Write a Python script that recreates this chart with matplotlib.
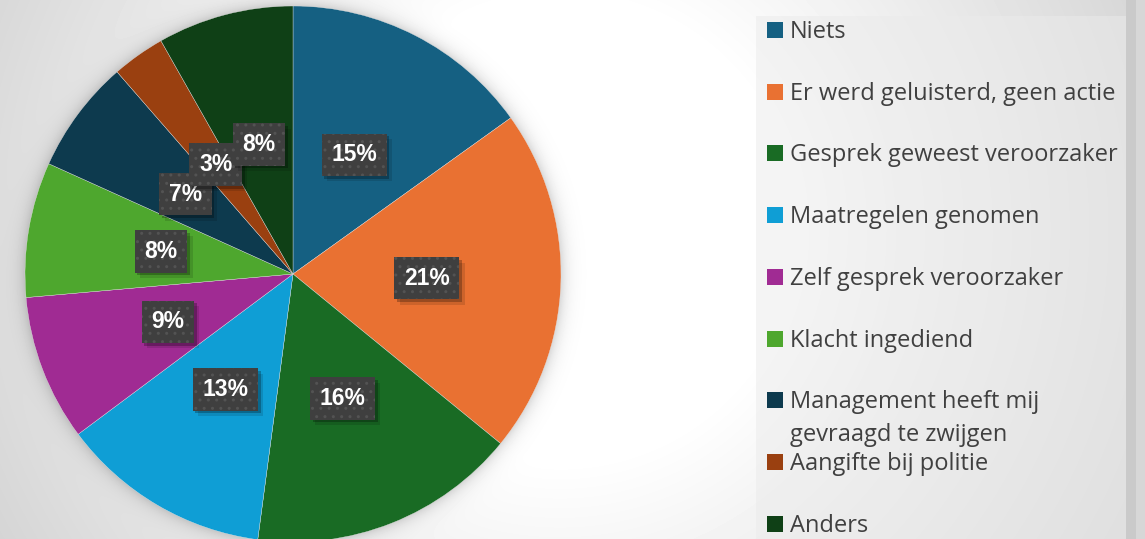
import numpy as np
import matplotlib.pyplot as plt
from matplotlib.patches import Rectangle
import matplotlib.patheffects as pe

categories = ['Niets', 'Er werd geluisterd, geen actie', 'Gesprek geweest veroorzaker',
              'Maatregelen genomen', 'Zelf gesprek veroorzaker', 'Klacht ingediend',
              'Management heeft mij\ngevraagd te zwijgen', 'Aangifte bij politie', 'Anders']
shares = [15.1, 20.8, 16.2, 12.7, 8.8, 8.15, 6.85, 3.2, 8.2]
colors = ['#156082', '#E97132', '#196B24', '#0F9ED5', '#A02B93', '#4EA72E',
          '#0D3A4E', '#9A4010', '#0F4016']


class BoxShadow(pe.AbstractPathEffect):
    # plain shifted copy of the box, without the hatch
    def __init__(self, offset=(3, -3), alpha=0.3):
        super().__init__(offset)
        self._alpha = alpha

    def draw_path(self, renderer, gc, tpath, affine, rgbFace):
        gc0 = renderer.new_gc()
        gc0.copy_properties(gc)
        gc0.set_hatch(None)
        gc0.set_linewidth(0)
        gc0.set_alpha(self._alpha)
        renderer.draw_path(gc0, tpath, affine + self._offset_transform(renderer), (0, 0, 0))
        gc0.restore()


W, H = 1145, 539
fig = plt.figure(figsize=(W / 100, H / 100), dpi=100)

# background: soft radial gradient plus a glow around the pie
yy, xx = np.mgrid[0:H, 0:W] + 0.5
d = np.hypot(xx - 560, yy - 230)
img = 1 - 0.17 * np.clip((d - 230) / 420, 0, 1)
cx, cy, R = 293, 274, 268
dp = np.hypot(xx - cx, yy - cy) - R
img *= 1 - 0.15 * np.exp(-np.clip(dp, 0, None) / 7)
img[:, 1126:1136] = 0.79
img[:, 1136:] = 0.84

bg = fig.add_axes([0, 0, 1, 1])
bg.imshow(img, cmap='gray', vmin=0, vmax=1, extent=(0, W, H, 0),
          aspect='auto', interpolation='bilinear')
bg.set_xlim(0, W)
bg.set_ylim(H, 0)
bg.axis('off')

# legend, drawn by hand
bg.add_patch(Rectangle((756, 16), 370, H, fc='#ebebeb', alpha=0.5, ec='none'))
base0, step, line_gap = 37.7, 61.8, 33
for i, (lab, col) in enumerate(zip(categories, colors)):
    yb = base0 + i * step
    bg.add_patch(Rectangle((767, yb - 16), 16, 16, fc=col, ec='none'))
    for k, line in enumerate(lab.split('\n')):
        bg.text(790, yb + k * line_gap, line, fontsize=17, family='Open Sans',
                color='#404040', va='baseline', ha='left')

# pie
ax = fig.add_axes([(cx - R) / W, (H - cy - R) / H, 2 * R / W, 2 * R / H])
wedges, texts, autotexts = ax.pie(shares, colors=colors, startangle=90, counterclock=False,
                                  autopct=lambda p: f'{p:.0f}%', pctdistance=0.5,
                                  wedgeprops=dict(edgecolor='#e8e8e8', linewidth=0.25))
ax.set_xlim(-1, 1)
ax.set_ylim(-1, 1)
ax.set_aspect('auto')
ax.axis('off')
ax.patch.set_visible(False)
for w in wedges:
    w.set_clip_on(False)

for n, t in enumerate(autotexts):
    t.set(color='white', fontsize=16.5, fontweight='bold', family='Liberation Sans',
          zorder=4 + n)
    t.set_bbox(dict(boxstyle='square,pad=0.42', fc='#3f3f3f', ec='#535353', lw=0, hatch='..'))
    t.get_bbox_patch().set_path_effects([BoxShadow((4, -4), 0.12), BoxShadow((2, -2), 0.25),
                                         pe.Normal()])

fig.savefig('out.png', dpi=100)
